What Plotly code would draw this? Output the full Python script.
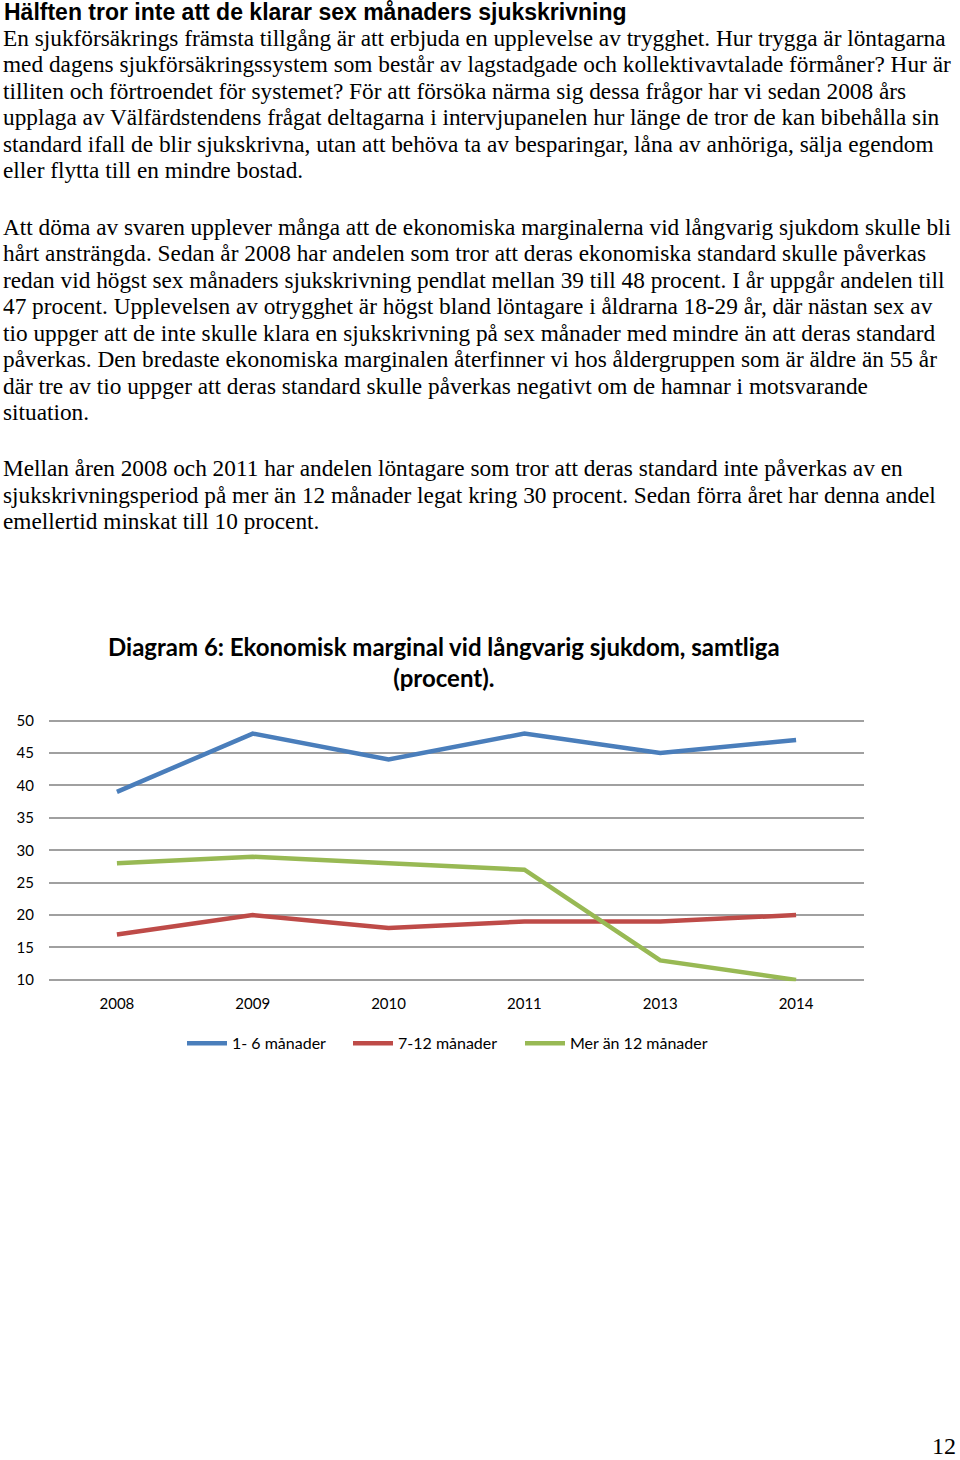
import plotly.graph_objects as go

W, H = 960, 1460

years = ["2008", "2009", "2010", "2011", "2013", "2014"]
s1_6 = [39, 48, 44, 48, 45, 47]
s7_12 = [17, 20, 18, 19, 19, 20]
s12p = [28, 29, 28, 27, 13, 10]
series_names = ["1- 6 månader", "7-12 månader", "Mer än 12 månader"]
series_colors = ["#4A7EBB", "#BE4B48", "#98B954"]
y_ticks = [10, 15, 20, 25, 30, 35, 40, 45, 50]

heading = "Hälften tror inte att de klarar sex månaders sjukskrivning"
para1 = [
    "En sjukförsäkrings främsta tillgång är att erbjuda en upplevelse av trygghet. Hur trygga är löntagarna",
    "med dagens sjukförsäkringssystem som består av lagstadgade och kollektivavtalade förmåner? Hur är",
    "tilliten och förtroendet för systemet? För att försöka närma sig dessa frågor har vi sedan 2008 års",
    "upplaga av Välfärdstendens frågat deltagarna i intervjupanelen hur länge de tror de kan bibehålla sin",
    "standard ifall de blir sjukskrivna, utan att behöva ta av besparingar, låna av anhöriga, sälja egendom",
    "eller flytta till en mindre bostad.",
]
para2 = [
    "Att döma av svaren upplever många att de ekonomiska marginalerna vid långvarig sjukdom skulle bli",
    "hårt ansträngda. Sedan år 2008 har andelen som tror att deras ekonomiska standard skulle påverkas",
    "redan vid högst sex månaders sjukskrivning pendlat mellan 39 till 48 procent. I år uppgår andelen till",
    "47 procent. Upplevelsen av otrygghet är högst bland löntagare i åldrarna 18-29 år, där nästan sex av",
    "tio uppger att de inte skulle klara en sjukskrivning på sex månader med mindre än att deras standard",
    "påverkas. Den bredaste ekonomiska marginalen återfinner vi hos åldergruppen som är äldre än 55 år",
    "där tre av tio uppger att deras standard skulle påverkas negativt om de hamnar i motsvarande",
    "situation.",
]
para3 = [
    "Mellan åren 2008 och 2011 har andelen löntagare som tror att deras standard inte påverkas av en",
    "sjukskrivningsperiod på mer än 12 månader legat kring 30 procent. Sedan förra året har denna andel",
    "emellertid minskat till 10 procent.",
]
chart_title = "<b>Diagram 6: Ekonomisk marginal vid långvarig sjukdom, samtliga<br>(procent).</b>"
page_number = "12"


def py(px):
    return 1 - px / H


fig = go.Figure()
legend_ids = ["legend", "legend2", "legend3"]
for name, vals, col, lg in zip(series_names, [s1_6, s7_12, s12p], series_colors, legend_ids):
    fig.add_trace(go.Scatter(x=years, y=vals, mode="lines", name=name, legend=lg,
                             line=dict(color=col, width=4.5)))

annotations = []
annotations.append(dict(text="<b>" + heading + "</b>", x=2 / W, y=py(4), xref="paper", yref="paper",
                        xanchor="left", yanchor="middle", showarrow=False,
                        font=dict(family="Liberation Sans", size=23, color="black")))
line_h = 26.8
for lines, start in [(para1, 30), (para2, 221), (para3, 465)]:
    for i, t in enumerate(lines):
        annotations.append(dict(text=t, x=1 / W, y=py(start + i * line_h), xref="paper", yref="paper",
                                xanchor="left", yanchor="middle", showarrow=False,
                                font=dict(family="Liberation Serif", size=23.3, color="black")))
annotations.append(dict(text=chart_title, x=444 / W, y=py(661), xref="paper", yref="paper",
                        xanchor="center", yanchor="middle", showarrow=False, align="center",
                        font=dict(family="Lato", size=24, color="black")))
annotations.append(dict(text=page_number, x=958 / W, y=py(1453), xref="paper", yref="paper",
                        xanchor="right", yanchor="middle", showarrow=False,
                        font=dict(family="Liberation Serif", size=24, color="black")))

leg_common = dict(orientation="h", yanchor="middle", font=dict(family="Lato", size=16, color="black"),
                  itemwidth=40, bgcolor="rgba(0,0,0,0)")
pad = 0.2 * 262 / 40
fig.update_layout(
    width=W, height=H,
    margin=dict(l=0, r=0, t=0, b=0),
    paper_bgcolor="white", plot_bgcolor="white",
    annotations=annotations,
    showlegend=True,
    legend=dict(x=182 / W, y=py(1046), **leg_common),
    legend2=dict(x=348 / W, y=py(1046), **leg_common),
    legend3=dict(x=520 / W, y=py(1046), **leg_common),
    xaxis=dict(domain=[49 / W, 864 / W], type="category", range=[-0.5, 5.5],
               showgrid=False, zeroline=False, showline=False, ticks="",
               tickfont=dict(family="Lato", size=15, color="black"), ticklabelstandoff=12),
    yaxis=dict(domain=[py(982 + pad), py(720 - pad)], range=[9.8, 50.2], tickvals=y_ticks,
               showgrid=True, gridcolor="#A0A0A0", gridwidth=1.5, zeroline=False,
               showline=False, ticks="", ticklabelstandoff=14,
               tickfont=dict(family="Lato", size=15, color="black")),
)
fig.write_html("out.html", config={"displayModeBar": False},
               post_script="document.body.style.margin='0';document.body.style.overflow='hidden';")
